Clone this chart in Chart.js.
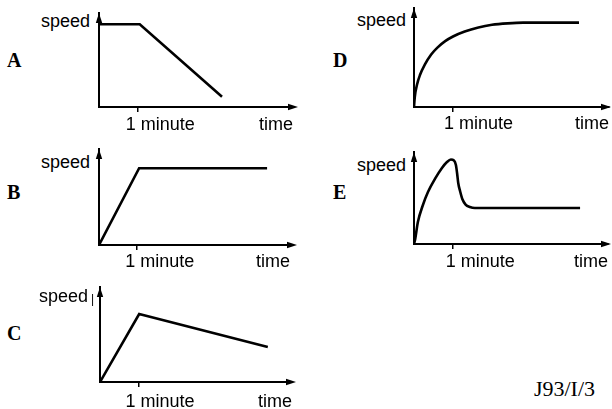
<!DOCTYPE html>
<html><head><meta charset="utf-8">
<script src="https://cdn.jsdelivr.net/npm/chart.js@4/dist/chart.umd.min.js"></script>
<style>
html,body{margin:0;padding:0;background:#fff;width:612px;height:409px;overflow:hidden;position:relative}
canvas{position:absolute}
.t{position:absolute;white-space:nowrap;color:#000}
.s{font:18px/18px "Liberation Sans",Arial,sans-serif}
.l{font:bold 20px/20px "Liberation Serif","Times New Roman",serif}
.f{font:22px/22px "Liberation Serif","Times New Roman",serif}
</style></head><body>
<script>
// ---------- data (time in minutes, speed in arbitrary units 0..10) ----------
const panelLetters = ['A', 'B', 'C', 'D', 'E'];
const yAxisLabel = 'speed';
const xAxisLabel = 'time';
const xTickLabel = '1 minute';
const footerText = 'J93/I/3';

const timeA  = [0, 1.05, 3.17];
const speedA = [8.8, 8.8, 1.1];

const timeB  = [0, 1.05, 4.4];
const speedB = [0, 8.0, 8.0];

const timeC  = [0, 1.02, 4.37];
const speedC = [0, 7.16, 3.68];

const timeD  = [0, 0.02, 0.08, 0.15, 0.28, 0.44, 0.60, 0.80, 1.00, 1.30, 1.65, 2.00, 2.40, 2.80, 4.23];
const speedD = [0, 1.0, 2.3, 3.2, 4.3, 5.3, 6.0, 6.65, 7.12, 7.62, 8.03, 8.3, 8.45, 8.52, 8.52];

const timeE  = [0, 0.026, 0.10, 0.23, 0.36, 0.54, 0.72, 0.85, 0.95, 1.03, 1.08, 1.11, 1.14, 1.19, 1.245, 1.33, 1.44, 1.57, 4.28];
const speedE = [0, 0.43, 2.39, 4.24, 5.65, 7.07, 8.26, 8.91, 9.18, 9.08, 8.59, 7.72, 6.63, 5.71, 4.89, 4.29, 4.02, 3.91, 3.91];

// ---------- layout (page pixels) ----------
const panels = [
  {t: timeA, s: speedA, curve: false, ox: 99,  oy: 107, ty: 13,  right: 293, ext: 5, tickPad: 2, lblOff: -12, letter: [7, 66.5],   spd: [90, 27]},
  {t: timeB, s: speedB, curve: false, ox: 99,  oy: 245, ty: 149, right: 290, ext: 7, tickPad: 1, lblOff: -12, letter: [7, 198.3],  spd: [90, 168.3]},
  {t: timeC, s: speedC, curve: false, ox: 100, oy: 382, ty: 287, right: 292, ext: 4, tickPad: 4, lblOff: -13, letter: [7, 339.3],  spd: [88, 301.7], bar: true},
  {t: timeD, s: speedD, curve: true,  ox: 414, oy: 107, ty: 8,   right: 609, ext: 2, tickPad: 1, lblOff: -9,  letter: [333, 66.7], spd: [406, 26]},
  {t: timeE, s: speedE, curve: true,  ox: 414, oy: 244, ty: 152, right: 608, ext: 3, tickPad: 2, lblOff: -7,  letter: [333, 198.3],spd: [406, 170.7]}
];

const PL = 6, PT = 2, HX = 40, TL = 5, LH = 18 * 1.2;

const arrowPlugin = {
  id: 'arrows',
  afterDraw(chart, args, opts) {
    const {ctx, chartArea: {left, top, right, bottom}} = chart;
    const x0 = Math.round(left), y0 = Math.round(bottom);
    ctx.save();
    ctx.fillStyle = '#000'; ctx.strokeStyle = '#000'; ctx.lineWidth = 2;
    const tip = right + opts.ext;
    ctx.beginPath(); ctx.moveTo(right - 1, y0); ctx.lineTo(tip - 4, y0); ctx.stroke();
    ctx.beginPath(); ctx.moveTo(tip, y0); ctx.lineTo(tip - 10, y0 - 3.2); ctx.lineTo(tip - 10, y0 + 3.2); ctx.closePath(); ctx.fill();
    ctx.beginPath(); ctx.moveTo(x0, top); ctx.lineTo(x0 - 3.2, top + 10); ctx.lineTo(x0 + 3.2, top + 10); ctx.closePath(); ctx.fill();
    ctx.restore();
  }
};

const FONT = '"Liberation Sans", Arial, sans-serif';

panels.forEach((p, i) => {
  const PR = p.ext + 4;
  const cv = document.createElement('canvas');
  const w = (p.right - p.ox) + PL + PR;
  const h = (p.oy - p.ty) + PT + HX;
  cv.width = w; cv.height = h;
  cv.style.left = (p.ox - PL) + 'px';
  cv.style.top = (p.ty - PT) + 'px';
  document.body.appendChild(cv);

  new Chart(cv, {
    type: 'line',
    data: {
      datasets: [{
        data: p.t.map((x, k) => ({x: x, y: p.s[k]})),
        borderColor: '#000',
        borderWidth: 2.6,
        pointRadius: 0,
        fill: false,
        tension: 0,
        cubicInterpolationMode: p.curve ? 'monotone' : 'default'
      }]
    },
    options: {
      responsive: false,
      animation: false,
      devicePixelRatio: 1,
      layout: {padding: {left: PL, top: PT, right: PR, bottom: 0}},
      plugins: {legend: {display: false}, tooltip: {enabled: false}, arrows: {ext: p.ext}},
      scales: {
        x: {
          type: 'linear', min: 0, max: 5,
          border: {display: true, color: '#000', width: 2},
          grid: {
            display: true, drawOnChartArea: false, drawTicks: true, tickLength: TL, lineWidth: 1.5,
            color: c => (c.tick && c.tick.value === 1) ? '#000' : 'rgba(0,0,0,0)'
          },
          ticks: {
            stepSize: 1, autoSkip: false, maxRotation: 0, align: 'start',
            labelOffset: p.lblOff, padding: p.tickPad, color: '#000',
            font: {family: FONT, size: 18},
            callback: v => v === 1 ? xTickLabel : ''
          },
          title: {
            display: true, text: xAxisLabel, align: 'end', color: '#000',
            font: {family: FONT, size: 18},
            padding: {top: 0, bottom: HX - TL - p.tickPad - LH}
          },
          afterFit: s => { s.height = HX; }
        },
        y: {
          type: 'linear', min: 0, max: 10,
          border: {display: true, color: '#000', width: 2},
          grid: {display: false},
          ticks: {display: false},
          afterFit: s => { s.width = 0; }
        }
      }
    },
    plugins: [arrowPlugin]
  });

  // panel letter
  const L = document.createElement('div');
  L.className = 't l'; L.textContent = panelLetters[i];
  L.style.left = p.letter[0] + 'px'; L.style.top = (p.letter[1] - 16.8) + 'px';
  document.body.appendChild(L);
  // speed label (right-aligned to given x)
  const S = document.createElement('div');
  S.className = 't s'; S.textContent = yAxisLabel;
  S.style.right = (612 - p.spd[0]) + 'px'; S.style.top = (p.spd[1] - 15.2) + 'px';
  document.body.appendChild(S);
  if (p.bar) {
    const B = document.createElement('div');
    B.className = 't'; B.textContent = '|';
    B.style.font = '12px/12px "Liberation Sans", Arial, sans-serif';
    B.style.left = (p.spd[0] + 3) + 'px'; B.style.top = (p.spd[1] - 9) + 'px';
    document.body.appendChild(B);
  }
});

const F = document.createElement('div');
F.className = 't f'; F.textContent = footerText;
F.style.right = (612 - 595) + 'px'; F.style.top = (396.7 - 18.5) + 'px';
document.body.appendChild(F);
</script>
</body></html>
